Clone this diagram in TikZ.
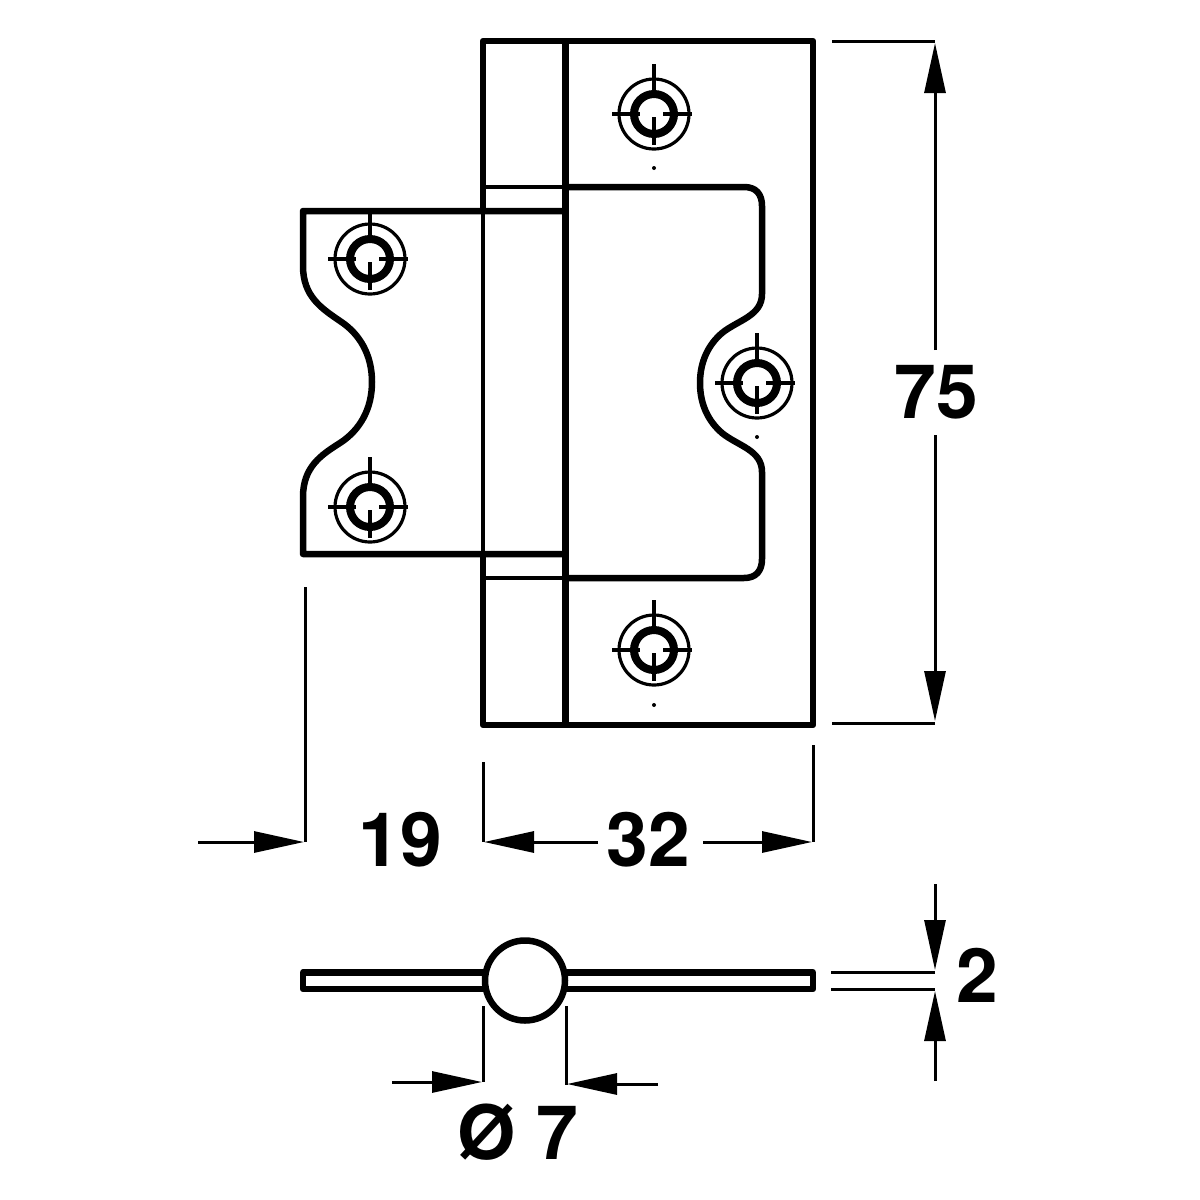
\documentclass[tikz,border=0pt]{standalone}
\usepackage{fontspec}
\setmainfont{TeX Gyre Heros}
\usetikzlibrary{arrows.meta}
\tikzset{
  thick outline/.style={line width=6.5pt,line join=round},
  mid outline/.style={line width=3.8pt},
  dim line/.style={line width=3pt},
  dim arrow/.style={line width=3pt,-{Triangle[length=50pt,width=21pt]}},
  dim label/.style={font=\fontsize{75}{77}\selectfont\bfseries,inner sep=0pt},
  screw mark/.pic={
    \draw[line width=3.2pt] (0,0) circle (35);
    \draw[line width=8pt] (0,0) circle (20);
    \draw[line width=3.4pt] (0,-50) -- (0,-20) (0,3) -- (0,31) (-42,0) -- (-14,0) (9,0) -- (38,0);
  }
}
\begin{document}
\begin{tikzpicture}[x=1pt,y=-1pt]
\useasboundingbox (0,0) rectangle (1200,1200);
% plate outline
\draw[thick outline] (483,211) -- (483,41) -- (813,41) -- (813,725) -- (483,725) -- (483,554);
\draw[mid outline] (483,211) -- (483,554);
\draw[line width=7pt] (565,41) -- (565,725);
% knuckle bands
\draw[mid outline] (483,187) -- (565,187) (483,578) -- (565,578);
% right leaf
\draw[thick outline] (565,187) -- (744,187) .. controls (756,187) and (762,194) .. (762,206)
  -- (762,294) .. controls (762,316) and (738,320) .. (722,333)
  .. controls (708,345) and (700,362) .. (700,383)
  .. controls (700,404) and (708,421) .. (722,433)
  .. controls (738,446) and (762,450) .. (762,472)
  -- (762,559) .. controls (762,571) and (756,578) .. (744,578) -- (565,578);
% left leaf
\draw[thick outline] (565,211) -- (303,211) -- (303,266)
  .. controls (303,296) and (321,308) .. (340,321)
  .. controls (360,334) and (372,355) .. (372,382)
  .. controls (372,409) and (360,430) .. (340,443)
  .. controls (321,455) and (303,467) .. (303,497)
  -- (303,554) -- (565,554);
% screws
\pic at (654,114) {screw mark};
\pic at (654,650) {screw mark};
\pic at (370,259) {screw mark};
\pic at (370,507) {screw mark};
\pic at (757,383) {screw mark};
\fill (654,168) circle (2) (654,705) circle (2) (757,437) circle (2);
% dimension 75
\draw[dim line] (832,41) -- (935,41) (832,723) -- (935,723);
\draw[dim arrow] (935,350) -- (935,43);
\draw[dim arrow] (935,435) -- (935,721);
\node[dim label] (h75) at (936,392) {75};
% dimension 19
\draw[dim line] (305,587) -- (305,842);
\draw[dim arrow] (198,842) -- (304,842);
\node[dim label] (w19) at (400,840) {19};
% dimension 32
\draw[dim line] (483,762) -- (483,842) (813,745) -- (813,842);
\draw[dim arrow] (598,842) -- (484,842);
\draw[dim arrow] (703,842) -- (812,842);
\node[dim label] (w32) at (648,840) {32};
% side view
\draw[thick outline] (303,972.5) rectangle (813,989);
\draw[line width=6.5pt,fill=white] (525,980.5) circle (40);
% dimension thickness
\draw[dim line] (831,972) -- (935,972) (831,989) -- (935,989);
\draw[dim arrow] (935,884) -- (935,970);
\draw[dim arrow] (935,1081) -- (935,991);
\node[dim label] (t2) at (977,975) {2};
% dimension diameter
\draw[dim line] (483,1006) -- (483,1082) (566,1006) -- (566,1085);
\draw[dim arrow] (392,1082) -- (482,1082);
\draw[dim arrow] (658,1084) -- (567,1084);
\node[dim label] (d7) at (518,1132) {Ø 7};
\end{tikzpicture}
\end{document}
